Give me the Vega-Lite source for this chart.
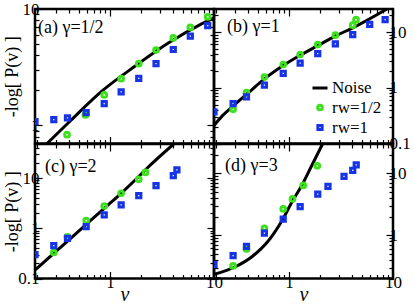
{
  "$schema": "https://vega.github.io/schema/vega-lite/v6.json",
  "padding": {"left": 1, "top": -2, "right": 0, "bottom": 0},
  "config": {
    "view": {"stroke": "black", "strokeWidth": 2.5},
    "axis": {"domain": false, "grid": false, "labelFont": "Liberation Serif", "labelFontSize": 17, "labelColor": "black", "tickColor": "black", "tickWidth": 1.2, "titleFont": "Liberation Serif", "titleFontSize": 18, "titleFontWeight": "normal", "titleColor": "black", "labelOverlap": false, "labelBound": false, "labelFlush": false, "labelPadding": 3},
    "text": {"font": "Liberation Serif", "fontSize": 18, "fontWeight": "normal", "fill": "black"}
  },
  "data": {"values": [
    {"p":"a","s":"label","t":"(a) γ=1/2"},{"p":"b","s":"label","t":"(b) γ=1"},{"p":"c","s":"label","t":"(c) γ=2"},{"p":"d","s":"label","t":"(d) γ=3"},
    {"p":"a","s":"Noise","v":0.248,"y":0.70},{"p":"a","s":"Noise","v":0.40,"y":1.06},{"p":"a","s":"Noise","v":0.84,"y":1.98},{"p":"a","s":"Noise","v":1.75,"y":3.24},{"p":"a","s":"Noise","v":3.67,"y":5.12},{"p":"a","s":"Noise","v":7.67,"y":7.48},{"p":"a","s":"Noise","v":10,"y":8.4},
    {"p":"a","s":"rw=1/2","v":0.386,"y":0.833},{"p":"a","s":"rw=1/2","v":0.58,"y":1.23},{"p":"a","s":"rw=1/2","v":0.88,"y":1.83},{"p":"a","s":"rw=1/2","v":1.28,"y":2.52},{"p":"a","s":"rw=1/2","v":1.89,"y":3.39},{"p":"a","s":"rw=1/2","v":2.77,"y":4.44},{"p":"a","s":"rw=1/2","v":4.06,"y":5.65},{"p":"a","s":"rw=1/2","v":5.92,"y":6.97},{"p":"a","s":"rw=1/2","v":8.7,"y":8.55},
    {"p":"a","s":"rw=1","v":0.19,"y":1.08},{"p":"a","s":"rw=1","v":0.288,"y":1.12},{"p":"a","s":"rw=1","v":0.39,"y":1.16},{"p":"a","s":"rw=1","v":0.59,"y":1.29},{"p":"a","s":"rw=1","v":0.88,"y":1.54},{"p":"a","s":"rw=1","v":1.28,"y":1.94},{"p":"a","s":"rw=1","v":1.89,"y":2.54},{"p":"a","s":"rw=1","v":2.77,"y":3.39},{"p":"a","s":"rw=1","v":4.06,"y":4.49},{"p":"a","s":"rw=1","v":5.92,"y":5.84},{"p":"a","s":"rw=1","v":8.7,"y":7.2},
    {"p":"b","s":"Noise","v":0.19,"y":0.21},{"p":"b","s":"Noise","v":0.227,"y":0.31},{"p":"b","s":"Noise","v":0.29,"y":0.47},{"p":"b","s":"Noise","v":0.39,"y":0.76},{"p":"b","s":"Noise","v":0.58,"y":1.45},{"p":"b","s":"Noise","v":0.88,"y":2.52},{"p":"b","s":"Noise","v":1.28,"y":3.85},{"p":"b","s":"Noise","v":1.89,"y":5.72},{"p":"b","s":"Noise","v":2.79,"y":8.5},{"p":"b","s":"Noise","v":4.1,"y":11.9},{"p":"b","s":"Noise","v":8.75,"y":26},
    {"p":"b","s":"rw=1/2","v":0.29,"y":0.41},{"p":"b","s":"rw=1/2","v":0.39,"y":0.82},{"p":"b","s":"rw=1/2","v":0.58,"y":1.56},{"p":"b","s":"rw=1/2","v":0.88,"y":2.62},{"p":"b","s":"rw=1/2","v":1.28,"y":3.96},{"p":"b","s":"rw=1/2","v":1.89,"y":5.98},{"p":"b","s":"rw=1/2","v":2.79,"y":8.8},{"p":"b","s":"rw=1/2","v":4.1,"y":13.3},{"p":"b","s":"rw=1/2","v":4.41,"y":16.7},
    {"p":"b","s":"rw=1","v":0.19,"y":0.37},{"p":"b","s":"rw=1","v":0.29,"y":0.52},{"p":"b","s":"rw=1","v":0.39,"y":0.69},{"p":"b","s":"rw=1","v":0.58,"y":1.12},{"p":"b","s":"rw=1","v":0.88,"y":1.81},{"p":"b","s":"rw=1","v":1.28,"y":2.78},{"p":"b","s":"rw=1","v":1.89,"y":4.12},{"p":"b","s":"rw=1","v":2.79,"y":6.15},{"p":"b","s":"rw=1","v":4.1,"y":9.0},{"p":"b","s":"rw=1","v":5.97,"y":13.8},{"p":"b","s":"rw=1","v":8.4,"y":16.7},
    {"p":"c","s":"Noise","v":0.19,"y":0.147},{"p":"c","s":"Noise","v":0.288,"y":0.316},{"p":"c","s":"Noise","v":0.58,"y":1.16},{"p":"c","s":"Noise","v":0.88,"y":2.51},{"p":"c","s":"Noise","v":1.28,"y":5.0},{"p":"c","s":"Noise","v":1.89,"y":10.8},{"p":"c","s":"Noise","v":2.27,"y":15.8},{"p":"c","s":"Noise","v":4.1,"y":48},
    {"p":"c","s":"rw=1/2","v":0.288,"y":0.33},{"p":"c","s":"rw=1/2","v":0.39,"y":0.68},{"p":"c","s":"rw=1/2","v":0.59,"y":1.43},{"p":"c","s":"rw=1/2","v":0.88,"y":2.79},{"p":"c","s":"rw=1/2","v":1.28,"y":5.0},{"p":"c","s":"rw=1/2","v":1.89,"y":9.5},{"p":"c","s":"rw=1/2","v":2.19,"y":13.0},
    {"p":"c","s":"rw=1","v":0.19,"y":0.30},{"p":"c","s":"rw=1","v":0.288,"y":0.45},{"p":"c","s":"rw=1","v":0.39,"y":0.63},{"p":"c","s":"rw=1","v":0.59,"y":1.08},{"p":"c","s":"rw=1","v":0.88,"y":1.85},{"p":"c","s":"rw=1","v":1.28,"y":2.93},{"p":"c","s":"rw=1","v":1.89,"y":4.5},{"p":"c","s":"rw=1","v":2.77,"y":7.1},{"p":"c","s":"rw=1","v":4.06,"y":11.3},{"p":"c","s":"rw=1","v":4.4,"y":14.7},
    {"p":"d","s":"Noise","v":0.19,"y":0.233},{"p":"d","s":"Noise","v":0.305,"y":0.31},{"p":"d","s":"Noise","v":0.44,"y":0.45},{"p":"d","s":"Noise","v":0.64,"y":0.83},{"p":"d","s":"Noise","v":0.86,"y":1.75},{"p":"d","s":"Noise","v":1.07,"y":3.48},{"p":"d","s":"Noise","v":1.33,"y":6.47},{"p":"d","s":"Noise","v":1.66,"y":13.6},{"p":"d","s":"Noise","v":2.1,"y":30},
    {"p":"d","s":"rw=1/2","v":0.29,"y":0.32},{"p":"d","s":"rw=1/2","v":0.39,"y":0.60},{"p":"d","s":"rw=1/2","v":0.58,"y":1.30},{"p":"d","s":"rw=1/2","v":0.88,"y":2.67},{"p":"d","s":"rw=1/2","v":1.08,"y":3.88},{"p":"d","s":"rw=1/2","v":1.37,"y":6.4},{"p":"d","s":"rw=1/2","v":1.87,"y":13.3},
    {"p":"d","s":"rw=1","v":0.19,"y":0.34},{"p":"d","s":"rw=1","v":0.29,"y":0.47},{"p":"d","s":"rw=1","v":0.39,"y":0.66},{"p":"d","s":"rw=1","v":0.58,"y":1.08},{"p":"d","s":"rw=1","v":0.88,"y":1.82},{"p":"d","s":"rw=1","v":1.28,"y":2.92},{"p":"d","s":"rw=1","v":1.89,"y":4.63},{"p":"d","s":"rw=1","v":2.37,"y":6.2},{"p":"d","s":"rw=1","v":3.38,"y":8.97},{"p":"d","s":"rw=1","v":4.1,"y":11.2},{"p":"d","s":"rw=1","v":4.43,"y":13.8}
  ]},
  "columns": 2,
  "spacing": 0,
  "bounds": "flush",
  "resolve": {"scale": {"x": "independent", "y": "independent", "color": "independent", "shape": "independent", "size": "independent"}},
  "concat": [
    {
      "width": 179, "height": 134.5,
      "resolve": {"axis": {"x": "independent", "y": "independent"}},
      "layer": [
        {"transform": [{"filter": "datum.p == 'a' && datum.s == 'Noise'"}],
         "mark": {"type": "line", "color": "black", "strokeWidth": 3, "interpolate": "monotone", "clip": true},
         "encoding": {
           "x": {"field": "v", "type": "quantitative", "scale": {"type": "log", "domain": [0.19, 10], "nice": false}, "axis": {"orient": "bottom", "labels": false, "title": null, "values": [0.2,0.3,0.4,0.5,0.6,0.7,0.8,0.9,1,2,3,4,5,6,7,8,9,10], "tickSize": {"condition": {"test": "datum.value == 1 || datum.value == 10", "value": -7}, "value": -4}}},
           "y": {"field": "y", "type": "quantitative", "scale": {"type": "log", "domain": [0.7, 10], "nice": false}, "axis": {"orient": "left", "title": "-log[ P(v) ]", "titleX": -23, "titleBaseline": "middle", "format": "~g", "values": [0.7,0.8,0.9,1,2,3,4,5,6,7,8,9,10], "labelExpr": "datum.value == 1 || datum.value == 10 ? datum.label : ''", "tickSize": {"condition": {"test": "datum.value == 1 || datum.value == 10", "value": -7}, "value": -4}}}
         }},
        {"transform": [{"filter": "datum.p == 'a' && datum.s == 'rw=1/2'"}],
         "mark": {"type": "point", "shape": "circle", "filled": false, "opacity": 1, "size": 22, "strokeWidth": 3, "color": "#3ce01c", "clip": true},
         "encoding": {
           "x": {"field": "v", "type": "quantitative", "scale": {"type": "log", "domain": [0.19, 10], "nice": false}, "axis": {"orient": "top", "labels": false, "title": null, "values": [0.2,0.3,0.4,0.5,0.6,0.7,0.8,0.9,1,2,3,4,5,6,7,8,9,10], "tickSize": {"condition": {"test": "datum.value == 1 || datum.value == 10", "value": -7}, "value": -4}}},
           "y": {"field": "y", "type": "quantitative", "scale": {"type": "log", "domain": [0.7, 10], "nice": false}, "axis": {"orient": "right", "labels": false, "title": null, "values": [0.7,0.8,0.9,1,2,3,4,5,6,7,8,9,10], "tickSize": {"condition": {"test": "datum.value == 1 || datum.value == 10", "value": -7}, "value": -4}}}
         }},
        {"transform": [{"filter": "datum.p == 'a' && datum.s == 'rw=1'"}],
         "mark": {"type": "point", "shape": "square", "filled": false, "opacity": 1, "size": 18, "strokeWidth": 3, "color": "#1733e8", "clip": true},
         "encoding": {
           "x": {"field": "v", "type": "quantitative", "scale": {"type": "log", "domain": [0.19, 10], "nice": false}, "axis": null},
           "y": {"field": "y", "type": "quantitative", "scale": {"type": "log", "domain": [0.7, 10], "nice": false}, "axis": null}
         }},
        {"transform": [{"filter": "datum.p == 'a' && datum.s == 'label'"}],
         "mark": {"type": "text", "align": "left", "baseline": "alphabetic"},
         "encoding": {
           "x": {"datum": 0.203, "type": "quantitative", "scale": {"type": "log", "domain": [0.19, 10], "nice": false}, "axis": null},
           "y": {"datum": 6.2, "type": "quantitative", "scale": {"type": "log", "domain": [0.7, 10], "nice": false}, "axis": null},
           "text": {"field": "t"}
         }}
      ]
    },
    {
      "width": 179, "height": 134.5,
      "resolve": {"axis": {"x": "independent", "y": "independent"}},
      "layer": [
        {"transform": [{"filter": "datum.p == 'b' && datum.s == 'Noise'"}],
         "mark": {"type": "line", "color": "black", "strokeWidth": 3, "interpolate": "monotone", "clip": true},
         "encoding": {
           "x": {"field": "v", "type": "quantitative", "scale": {"type": "log", "domain": [0.19, 10], "nice": false}, "axis": {"orient": "bottom", "labels": false, "title": null, "values": [0.2,0.3,0.4,0.5,0.6,0.7,0.8,0.9,1,2,3,4,5,6,7,8,9,10], "tickSize": {"condition": {"test": "datum.value == 1 || datum.value == 10", "value": -7}, "value": -4}}},
           "y": {"field": "y", "type": "quantitative", "scale": {"type": "log", "domain": [0.1, 26], "nice": false}, "axis": {"orient": "left", "labels": false, "title": null, "values": [0.1,0.2,0.3,0.4,0.5,0.6,0.7,0.8,0.9,1,2,3,4,5,6,7,8,9,10,20], "tickSize": {"condition": {"test": "datum.value == 0.1 || datum.value == 1 || datum.value == 10", "value": -7}, "value": -4}}}
         }},
        {"transform": [{"filter": "datum.p == 'b' && (datum.s == 'rw=1/2' || datum.s == 'rw=1')"}],
         "mark": {"type": "point", "filled": false, "opacity": 1, "strokeWidth": 3, "clip": true},
         "encoding": {
           "x": {"field": "v", "type": "quantitative", "scale": {"type": "log", "domain": [0.19, 10], "nice": false}, "axis": {"orient": "top", "labels": false, "title": null, "values": [0.2,0.3,0.4,0.5,0.6,0.7,0.8,0.9,1,2,3,4,5,6,7,8,9,10], "tickSize": {"condition": {"test": "datum.value == 1 || datum.value == 10", "value": -7}, "value": -4}}},
           "y": {"field": "y", "type": "quantitative", "scale": {"type": "log", "domain": [0.1, 26], "nice": false}, "axis": {"orient": "right", "title": null, "format": "~g", "values": [0.1,0.2,0.3,0.4,0.5,0.6,0.7,0.8,0.9,1,2,3,4,5,6,7,8,9,10,20], "labelExpr": "datum.value == 0.1 || datum.value == 1 || datum.value == 10 ? datum.label : ''", "tickSize": {"condition": {"test": "datum.value == 0.1 || datum.value == 1 || datum.value == 10", "value": -7}, "value": -4}}},
           "color": {"field": "s", "type": "nominal", "scale": {"domain": ["Noise", "rw=1/2", "rw=1"], "range": ["black", "#3ce01c", "#1733e8"]},
             "legend": {"orient": "none", "legendX": 97, "legendY": 70, "title": null, "labelFont": "Liberation Serif", "labelFontSize": 17, "labelColor": "black", "rowPadding": 2, "labelOffset": 3, "symbolStrokeWidth": 3}},
           "shape": {"field": "s", "type": "nominal", "scale": {"domain": ["Noise", "rw=1/2", "rw=1"], "range": ["stroke", "circle", "square"]},
             "legend": {"orient": "none", "legendX": 97, "legendY": 70, "title": null, "labelFont": "Liberation Serif", "labelFontSize": 17, "labelColor": "black", "rowPadding": 2, "labelOffset": 3, "symbolStrokeWidth": 3}},
           "size": {"field": "s", "type": "nominal", "scale": {"type": "ordinal", "domain": ["Noise", "rw=1/2", "rw=1"], "range": [225, 22, 18]},
             "legend": {"orient": "none", "legendX": 97, "legendY": 70, "title": null, "labelFont": "Liberation Serif", "labelFontSize": 17, "labelColor": "black", "rowPadding": 2, "labelOffset": 3, "symbolStrokeWidth": 3}}
         }},
        {"transform": [{"filter": "datum.p == 'b' && datum.s == 'label'"}],
         "mark": {"type": "text", "align": "left", "baseline": "alphabetic"},
         "encoding": {
           "x": {"datum": 0.254, "type": "quantitative", "scale": {"type": "log", "domain": [0.19, 10], "nice": false}, "axis": null},
           "y": {"datum": 10, "type": "quantitative", "scale": {"type": "log", "domain": [0.1, 26], "nice": false}, "axis": null},
           "text": {"field": "t"}
         }}
      ]
    },
    {
      "width": 179, "height": 134.5,
      "resolve": {"axis": {"x": "independent", "y": "independent"}},
      "layer": [
        {"transform": [{"filter": "datum.p == 'c' && datum.s == 'Noise'"}],
         "mark": {"type": "line", "color": "black", "strokeWidth": 3, "interpolate": "monotone", "clip": true},
         "encoding": {
           "x": {"field": "v", "type": "quantitative", "scale": {"type": "log", "domain": [0.19, 10], "nice": false}, "axis": {"orient": "bottom", "title": "v", "titleFontStyle": "italic", "titleFontSize": 20, "titleY": 22, "titleBaseline": "alphabetic", "format": "~g", "values": [0.2,0.3,0.4,0.5,0.6,0.7,0.8,0.9,1,2,3,4,5,6,7,8,9,10], "labelExpr": "datum.value == 1 || datum.value == 10 ? datum.label : ''", "tickSize": {"condition": {"test": "datum.value == 1 || datum.value == 10", "value": -7}, "value": -4}}},
           "y": {"field": "y", "type": "quantitative", "scale": {"type": "log", "domain": [0.1, 48], "nice": false}, "axis": {"orient": "left", "title": "-log[ P(v) ]", "titleX": -23, "titleBaseline": "middle", "format": "~g", "values": [0.1,0.2,0.3,0.4,0.5,0.6,0.7,0.8,0.9,1,2,3,4,5,6,7,8,9,10,20,30,40], "labelExpr": "datum.value == 0.1 || datum.value == 1 || datum.value == 10 ? datum.label : ''", "tickSize": {"condition": {"test": "datum.value == 0.1 || datum.value == 1 || datum.value == 10", "value": -7}, "value": -4}}}
         }},
        {"transform": [{"filter": "datum.p == 'c' && datum.s == 'rw=1/2'"}],
         "mark": {"type": "point", "shape": "circle", "filled": false, "opacity": 1, "size": 22, "strokeWidth": 3, "color": "#3ce01c", "clip": true},
         "encoding": {
           "x": {"field": "v", "type": "quantitative", "scale": {"type": "log", "domain": [0.19, 10], "nice": false}, "axis": {"orient": "top", "labels": false, "title": null, "values": [0.2,0.3,0.4,0.5,0.6,0.7,0.8,0.9,1,2,3,4,5,6,7,8,9,10], "tickSize": {"condition": {"test": "datum.value == 1 || datum.value == 10", "value": -7}, "value": -4}}},
           "y": {"field": "y", "type": "quantitative", "scale": {"type": "log", "domain": [0.1, 48], "nice": false}, "axis": {"orient": "right", "labels": false, "title": null, "values": [0.1,0.2,0.3,0.4,0.5,0.6,0.7,0.8,0.9,1,2,3,4,5,6,7,8,9,10,20,30,40], "tickSize": {"condition": {"test": "datum.value == 0.1 || datum.value == 1 || datum.value == 10", "value": -7}, "value": -4}}}
         }},
        {"transform": [{"filter": "datum.p == 'c' && datum.s == 'rw=1'"}],
         "mark": {"type": "point", "shape": "square", "filled": false, "opacity": 1, "size": 18, "strokeWidth": 3, "color": "#1733e8", "clip": true},
         "encoding": {
           "x": {"field": "v", "type": "quantitative", "scale": {"type": "log", "domain": [0.19, 10], "nice": false}, "axis": null},
           "y": {"field": "y", "type": "quantitative", "scale": {"type": "log", "domain": [0.1, 48], "nice": false}, "axis": null}
         }},
        {"transform": [{"filter": "datum.p == 'c' && datum.s == 'label'"}],
         "mark": {"type": "text", "align": "left", "baseline": "alphabetic"},
         "encoding": {
           "x": {"datum": 0.237, "type": "quantitative", "scale": {"type": "log", "domain": [0.19, 10], "nice": false}, "axis": null},
           "y": {"datum": 13.5, "type": "quantitative", "scale": {"type": "log", "domain": [0.1, 48], "nice": false}, "axis": null},
           "text": {"field": "t"}
         }}
      ]
    },
    {
      "width": 179, "height": 134.5,
      "resolve": {"axis": {"x": "independent", "y": "independent"}},
      "layer": [
        {"transform": [{"filter": "datum.p == 'd' && datum.s == 'Noise'"}],
         "mark": {"type": "line", "color": "black", "strokeWidth": 3, "interpolate": "monotone", "clip": true},
         "encoding": {
           "x": {"field": "v", "type": "quantitative", "scale": {"type": "log", "domain": [0.19, 10], "nice": false}, "axis": {"orient": "bottom", "title": "v", "titleFontStyle": "italic", "titleFontSize": 20, "titleY": 22, "titleBaseline": "alphabetic", "format": "~g", "values": [0.2,0.3,0.4,0.5,0.6,0.7,0.8,0.9,1,2,3,4,5,6,7,8,9,10], "labelExpr": "datum.value == 1 || datum.value == 10 ? datum.label : ''", "tickSize": {"condition": {"test": "datum.value == 1 || datum.value == 10", "value": -7}, "value": -4}}},
           "y": {"field": "y", "type": "quantitative", "scale": {"type": "log", "domain": [0.2, 30], "nice": false}, "axis": {"orient": "left", "labels": false, "title": null, "values": [0.2,0.3,0.4,0.5,0.6,0.7,0.8,0.9,1,2,3,4,5,6,7,8,9,10,20,30], "tickSize": {"condition": {"test": "datum.value == 1 || datum.value == 10", "value": -7}, "value": -4}}}
         }},
        {"transform": [{"filter": "datum.p == 'd' && datum.s == 'rw=1/2'"}],
         "mark": {"type": "point", "shape": "circle", "filled": false, "opacity": 1, "size": 22, "strokeWidth": 3, "color": "#3ce01c", "clip": true},
         "encoding": {
           "x": {"field": "v", "type": "quantitative", "scale": {"type": "log", "domain": [0.19, 10], "nice": false}, "axis": {"orient": "top", "labels": false, "title": null, "values": [0.2,0.3,0.4,0.5,0.6,0.7,0.8,0.9,1,2,3,4,5,6,7,8,9,10], "tickSize": {"condition": {"test": "datum.value == 1 || datum.value == 10", "value": -7}, "value": -4}}},
           "y": {"field": "y", "type": "quantitative", "scale": {"type": "log", "domain": [0.2, 30], "nice": false}, "axis": {"orient": "right", "title": null, "format": "~g", "values": [0.2,0.3,0.4,0.5,0.6,0.7,0.8,0.9,1,2,3,4,5,6,7,8,9,10,20,30], "labelExpr": "datum.value == 1 || datum.value == 10 ? datum.label : ''", "tickSize": {"condition": {"test": "datum.value == 1 || datum.value == 10", "value": -7}, "value": -4}}}
         }},
        {"transform": [{"filter": "datum.p == 'd' && datum.s == 'rw=1'"}],
         "mark": {"type": "point", "shape": "square", "filled": false, "opacity": 1, "size": 18, "strokeWidth": 3, "color": "#1733e8", "clip": true},
         "encoding": {
           "x": {"field": "v", "type": "quantitative", "scale": {"type": "log", "domain": [0.19, 10], "nice": false}, "axis": null},
           "y": {"field": "y", "type": "quantitative", "scale": {"type": "log", "domain": [0.2, 30], "nice": false}, "axis": null}
         }},
        {"transform": [{"filter": "datum.p == 'd' && datum.s == 'label'"}],
         "mark": {"type": "text", "align": "left", "baseline": "alphabetic"},
         "encoding": {
           "x": {"datum": 0.243, "type": "quantitative", "scale": {"type": "log", "domain": [0.19, 10], "nice": false}, "axis": null},
           "y": {"datum": 10.8, "type": "quantitative", "scale": {"type": "log", "domain": [0.2, 30], "nice": false}, "axis": null},
           "text": {"field": "t"}
         }}
      ]
    }
  ]
}
